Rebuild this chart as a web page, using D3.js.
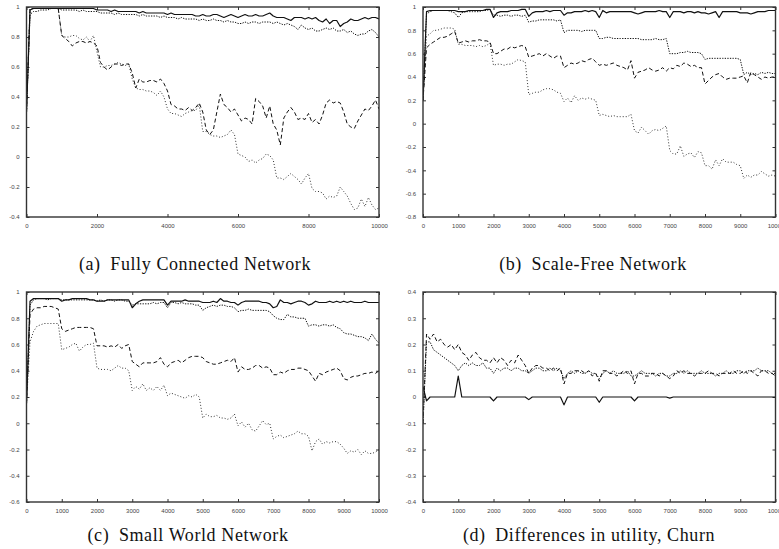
<!DOCTYPE html>
<html>
<head>
<meta charset="utf-8">
<script src="https://cdn.jsdelivr.net/npm/d3@7/dist/d3.min.js"></script>
<style>
body { margin: 0; background: #fff; }
.tick text { font-family: "Liberation Sans", Arial, sans-serif; font-size: 6px; fill: #444; }
.caption { font-family: "Liberation Serif", "Times New Roman", serif; font-size: 18px; letter-spacing: 0.6px; fill: #111; }
</style>
</head>
<body>
<div id="chart"></div>
<script>
// time steps, one sample every 100
const steps = d3.range(0, 10001, 100);

//////// (a) Fully Connected Network ////////
const aSolid = [
  0.30, 0.98, 0.99, 0.99, 0.99, 0.99, 0.99, 0.99, 0.99, 0.99,
  0.99, 0.99, 0.99, 0.99, 0.99, 0.99, 0.99, 0.99, 0.99, 0.99,
  0.98, 0.98, 0.98, 0.98, 0.97, 0.98, 0.97, 0.97, 0.97, 0.97,
  0.97, 0.97, 0.96, 0.97, 0.96, 0.96, 0.96, 0.96, 0.96, 0.96,
  0.95, 0.96, 0.95, 0.95, 0.95, 0.95, 0.95, 0.95, 0.94, 0.94,
  0.95, 0.94, 0.94, 0.95, 0.95, 0.94, 0.93, 0.94, 0.95, 0.94,
  0.93, 0.94, 0.95, 0.94, 0.94, 0.95, 0.94, 0.94, 0.95, 0.96,
  0.94, 0.93, 0.93, 0.93, 0.92, 0.91, 0.93, 0.93, 0.93, 0.92,
  0.93, 0.92, 0.93, 0.91, 0.90, 0.92, 0.89, 0.91, 0.91, 0.87,
  0.89, 0.90, 0.92, 0.91, 0.91, 0.92, 0.93, 0.92, 0.93, 0.93, 0.92
];
const aFine = [
  0.30, 0.95, 0.97, 0.97, 0.98, 0.98, 0.98, 0.99, 0.99, 0.99,
  0.98, 0.98, 0.98, 0.98, 0.98, 0.97, 0.98, 0.97, 0.97, 0.97,
  0.97, 0.96, 0.96, 0.96, 0.96, 0.95, 0.96, 0.95, 0.95, 0.95,
  0.95, 0.95, 0.94, 0.95, 0.94, 0.94, 0.94, 0.94, 0.93, 0.94,
  0.93, 0.93, 0.93, 0.92, 0.93, 0.92, 0.92, 0.92, 0.92, 0.91,
  0.92, 0.91, 0.91, 0.92, 0.91, 0.91, 0.90, 0.91, 0.90, 0.90,
  0.89, 0.89, 0.90, 0.89, 0.90, 0.90, 0.89, 0.90, 0.90, 0.90,
  0.89, 0.90, 0.89, 0.88, 0.89, 0.88, 0.87, 0.85, 0.88, 0.86,
  0.85, 0.86, 0.84, 0.84, 0.85, 0.86, 0.85, 0.86, 0.84, 0.84,
  0.85, 0.83, 0.84, 0.82, 0.81, 0.82, 0.82, 0.84, 0.85, 0.83, 0.80
];
const aDash = [
  0.30, 0.99, 0.99, 0.99, 0.99, 0.99, 0.99, 0.99, 0.99, 0.99,
  0.81, 0.79, 0.77, 0.74, 0.76, 0.77, 0.77, 0.76, 0.77, 0.76,
  0.74, 0.63, 0.60, 0.58, 0.60, 0.62, 0.62, 0.61, 0.62, 0.62,
  0.56, 0.46, 0.52, 0.50, 0.50, 0.51, 0.51, 0.50, 0.52, 0.49,
  0.44, 0.35, 0.34, 0.32, 0.32, 0.31, 0.33, 0.31, 0.33, 0.36,
  0.30, 0.18, 0.15, 0.18, 0.30, 0.42, 0.35, 0.33, 0.30, 0.32,
  0.28, 0.24, 0.26, 0.25, 0.22, 0.39, 0.37, 0.34, 0.26, 0.34,
  0.22, 0.18, 0.08, 0.26, 0.30, 0.33, 0.30, 0.25, 0.26, 0.25,
  0.29, 0.23, 0.25, 0.22, 0.28, 0.36, 0.38, 0.36, 0.37, 0.36,
  0.30, 0.22, 0.20, 0.19, 0.24, 0.28, 0.32, 0.31, 0.34, 0.38, 0.32
];
const aDot = [
  0.30, 0.99, 0.99, 0.99, 0.99, 0.99, 0.99, 0.99, 0.99, 0.99,
  0.81, 0.80, 0.80, 0.81, 0.81, 0.79, 0.78, 0.80, 0.77, 0.81,
  0.70, 0.60, 0.60, 0.61, 0.61, 0.62, 0.63, 0.62, 0.61, 0.62,
  0.52, 0.46, 0.45, 0.45, 0.44, 0.44, 0.43, 0.41, 0.44, 0.40,
  0.32, 0.29, 0.29, 0.28, 0.27, 0.29, 0.30, 0.31, 0.31, 0.35,
  0.17, 0.17, 0.15, 0.14, 0.14, 0.13, 0.14, 0.15, 0.18, 0.15,
  0.02, 0.01, 0.00, -0.03, -0.02, -0.04, -0.02, -0.01, 0.02, 0.01,
  -0.02, -0.14, -0.14, -0.15, -0.13, -0.11, -0.13, -0.15, -0.18, -0.14,
  -0.11, -0.21, -0.23, -0.23, -0.24, -0.28, -0.26, -0.27, -0.26, -0.20,
  -0.23, -0.26, -0.31, -0.35, -0.34, -0.28, -0.33, -0.27, -0.32, -0.35, -0.34
];

//////// (b) Scale-Free Network ////////
const bSolid = [
  0.20, 0.96, 0.97, 0.97, 0.97, 0.97, 0.97, 0.97, 0.97, 0.97,
  0.96, 0.96, 0.96, 0.97, 0.97, 0.97, 0.97, 0.97, 0.98, 0.98,
  0.91, 0.95, 0.96, 0.96, 0.96, 0.97, 0.97, 0.97, 0.98, 0.98,
  0.92, 0.95, 0.96, 0.96, 0.96, 0.97, 0.96, 0.97, 0.97, 0.97,
  0.93, 0.95, 0.95, 0.96, 0.96, 0.96, 0.97, 0.96, 0.97, 0.96,
  0.91, 0.97, 0.95, 0.96, 0.96, 0.96, 0.96, 0.96, 0.96, 0.96,
  0.95, 0.94, 0.95, 0.96, 0.96, 0.96, 0.96, 0.97, 0.96, 0.96,
  0.91, 0.96, 0.96, 0.96, 0.95, 0.96, 0.96, 0.95, 0.96, 0.95,
  0.95, 0.94, 0.95, 0.96, 0.91, 0.96, 0.96, 0.96, 0.96, 0.96,
  0.95, 0.95, 0.95, 0.94, 0.95, 0.96, 0.96, 0.96, 0.97, 0.97, 0.97
];
const bFine = [
  0.20, 0.94, 0.96, 0.97, 0.97, 0.97, 0.97, 0.97, 0.96, 0.95,
  0.91, 0.95, 0.96, 0.96, 0.96, 0.96, 0.96, 0.97, 0.97, 0.98,
  0.93, 0.93, 0.92, 0.93, 0.93, 0.92, 0.93, 0.93, 0.92, 0.93,
  0.87, 0.88, 0.88, 0.89, 0.89, 0.89, 0.89, 0.89, 0.88, 0.89,
  0.78, 0.80, 0.80, 0.80, 0.80, 0.79, 0.80, 0.80, 0.80, 0.80,
  0.73, 0.73, 0.74, 0.74, 0.73, 0.73, 0.73, 0.73, 0.73, 0.73,
  0.73, 0.73, 0.72, 0.72, 0.72, 0.72, 0.73, 0.72, 0.72, 0.73,
  0.60, 0.60, 0.60, 0.61, 0.61, 0.62, 0.61, 0.61, 0.61, 0.60,
  0.55, 0.56, 0.56, 0.56, 0.56, 0.56, 0.56, 0.56, 0.56, 0.56,
  0.55, 0.42, 0.44, 0.42, 0.43, 0.42, 0.44, 0.43, 0.44, 0.43, 0.43
];
const bDash = [
  0.20, 0.65, 0.68, 0.70, 0.72, 0.74, 0.74, 0.75, 0.77, 0.79,
  0.69, 0.70, 0.71, 0.70, 0.71, 0.71, 0.72, 0.71, 0.71, 0.70,
  0.60, 0.60, 0.62, 0.64, 0.64, 0.66, 0.65, 0.66, 0.67, 0.66,
  0.57, 0.58, 0.59, 0.60, 0.58, 0.60, 0.58, 0.56, 0.58, 0.58,
  0.48, 0.50, 0.52, 0.51, 0.52, 0.54, 0.53, 0.55, 0.56, 0.53,
  0.50, 0.51, 0.50, 0.51, 0.52, 0.50, 0.49, 0.48, 0.46, 0.54,
  0.39, 0.44, 0.45, 0.46, 0.48, 0.46, 0.45, 0.46, 0.48, 0.45,
  0.48, 0.47, 0.50, 0.49, 0.52, 0.51, 0.49, 0.50, 0.48, 0.48,
  0.34, 0.37, 0.40, 0.42, 0.43, 0.40, 0.38, 0.39, 0.39, 0.39,
  0.40, 0.41, 0.35, 0.44, 0.42, 0.40, 0.38, 0.40, 0.39, 0.40, 0.40
];
const bDot = [
  0.20, 0.75, 0.77, 0.80, 0.80, 0.81, 0.82, 0.82, 0.82, 0.81,
  0.68, 0.68, 0.67, 0.67, 0.67, 0.66, 0.67, 0.66, 0.67, 0.69,
  0.50, 0.51, 0.51, 0.50, 0.51, 0.51, 0.53, 0.55, 0.54, 0.53,
  0.25, 0.26, 0.27, 0.27, 0.29, 0.30, 0.30, 0.29, 0.27, 0.26,
  0.19, 0.22, 0.18, 0.24, 0.20, 0.22, 0.21, 0.22, 0.21, 0.20,
  0.07, 0.08, 0.07, 0.06, 0.07, 0.06, 0.06, 0.06, 0.06, 0.08,
  -0.06, -0.08, -0.03, -0.06, -0.09, -0.06, -0.05, -0.06, -0.04, -0.02,
  -0.23, -0.26, -0.26, -0.19, -0.28, -0.26, -0.25, -0.29, -0.24, -0.25,
  -0.36, -0.36, -0.39, -0.31, -0.36, -0.30, -0.33, -0.33, -0.33, -0.35,
  -0.36, -0.47, -0.44, -0.46, -0.44, -0.44, -0.41, -0.43, -0.45, -0.44, -0.45
];

//////// (c) Small World Network ////////
const cSolid = [
  0.15, 0.93, 0.95, 0.95, 0.95, 0.95, 0.95, 0.95, 0.95, 0.95,
  0.93, 0.94, 0.94, 0.95, 0.95, 0.95, 0.95, 0.95, 0.94, 0.94,
  0.93, 0.93, 0.93, 0.94, 0.94, 0.94, 0.94, 0.94, 0.94, 0.94,
  0.88, 0.91, 0.93, 0.94, 0.94, 0.94, 0.94, 0.94, 0.94, 0.94,
  0.90, 0.93, 0.93, 0.93, 0.93, 0.94, 0.93, 0.93, 0.93, 0.93,
  0.92, 0.92, 0.92, 0.93, 0.92, 0.95, 0.93, 0.93, 0.92, 0.92,
  0.90, 0.92, 0.93, 0.93, 0.93, 0.93, 0.93, 0.92, 0.92, 0.91,
  0.88, 0.89, 0.94, 0.92, 0.92, 0.91, 0.92, 0.93, 0.93, 0.92,
  0.90, 0.91, 0.93, 0.92, 0.92, 0.92, 0.93, 0.92, 0.93, 0.92,
  0.93, 0.92, 0.93, 0.92, 0.92, 0.92, 0.93, 0.92, 0.92, 0.92, 0.92
];
const cFine = [
  0.15, 0.90, 0.94, 0.95, 0.95, 0.95, 0.94, 0.95, 0.95, 0.95,
  0.94, 0.94, 0.94, 0.94, 0.94, 0.94, 0.94, 0.94, 0.94, 0.94,
  0.93, 0.94, 0.93, 0.94, 0.94, 0.93, 0.94, 0.94, 0.93, 0.93,
  0.90, 0.91, 0.91, 0.91, 0.91, 0.91, 0.92, 0.91, 0.92, 0.92,
  0.88, 0.92, 0.92, 0.91, 0.92, 0.91, 0.91, 0.91, 0.90, 0.90,
  0.86, 0.88, 0.89, 0.90, 0.89, 0.90, 0.90, 0.89, 0.89, 0.88,
  0.85, 0.86, 0.86, 0.87, 0.86, 0.86, 0.86, 0.86, 0.86, 0.85,
  0.82, 0.80, 0.79, 0.79, 0.83, 0.81, 0.81, 0.80, 0.80, 0.80,
  0.74, 0.75, 0.75, 0.74, 0.75, 0.75, 0.74, 0.75, 0.73, 0.72,
  0.69, 0.68, 0.68, 0.67, 0.66, 0.66, 0.65, 0.63, 0.68, 0.64, 0.61
];
const cDash = [
  0.15, 0.83, 0.87, 0.88, 0.88, 0.89, 0.89, 0.89, 0.88, 0.87,
  0.72, 0.70, 0.71, 0.72, 0.73, 0.73, 0.73, 0.73, 0.73, 0.72,
  0.59, 0.59, 0.59, 0.58, 0.59, 0.58, 0.60, 0.57, 0.59, 0.60,
  0.47, 0.45, 0.43, 0.46, 0.46, 0.46, 0.46, 0.47, 0.50, 0.45,
  0.43, 0.46, 0.47, 0.48, 0.46, 0.48, 0.50, 0.51, 0.51, 0.51,
  0.50, 0.47, 0.46, 0.45, 0.45, 0.46, 0.47, 0.48, 0.47, 0.50,
  0.39, 0.43, 0.41, 0.41, 0.42, 0.44, 0.44, 0.42, 0.43, 0.42,
  0.37, 0.37, 0.39, 0.38, 0.40, 0.41, 0.41, 0.42, 0.42, 0.41,
  0.40, 0.36, 0.32, 0.38, 0.37, 0.39, 0.40, 0.41, 0.42, 0.40,
  0.34, 0.33, 0.35, 0.36, 0.36, 0.37, 0.38, 0.38, 0.39, 0.38, 0.40
];
const cDot = [
  0.15, 0.62, 0.70, 0.74, 0.75, 0.76, 0.76, 0.76, 0.76, 0.76,
  0.56, 0.57, 0.58, 0.60, 0.61, 0.55, 0.58, 0.60, 0.60, 0.61,
  0.42, 0.41, 0.41, 0.41, 0.40, 0.42, 0.44, 0.42, 0.42, 0.40,
  0.25, 0.28, 0.26, 0.30, 0.25, 0.27, 0.25, 0.28, 0.25, 0.29,
  0.21, 0.23, 0.22, 0.21, 0.20, 0.19, 0.21, 0.20, 0.22, 0.20,
  0.04, 0.07, 0.05, 0.05, 0.06, 0.04, 0.04, 0.03, 0.04, 0.07,
  -0.02, 0.01, -0.03, 0.00, -0.05, -0.06, -0.02, 0.02, -0.01, 0.00,
  -0.12, -0.10, -0.09, -0.11, -0.10, -0.09, -0.08, -0.06, -0.08, -0.08,
  -0.10, -0.21, -0.14, -0.12, -0.16, -0.14, -0.15, -0.14, -0.14, -0.16,
  -0.19, -0.23, -0.21, -0.22, -0.20, -0.24, -0.21, -0.23, -0.23, -0.22, -0.20
];

//////// (d) Differences in utility, Churn ////////
const dSolid = [
  0.04, -0.015, 0, 0, 0, 0, 0, 0, 0, 0,
  0.08, 0, 0, 0, 0, 0, 0, 0, 0, 0,
  -0.015, 0, 0, 0, 0, 0, 0, 0, 0, 0,
  -0.01, 0, 0, 0, 0, 0, 0, 0, 0, 0,
  -0.03, 0, 0, 0, 0, 0, 0, 0, 0, 0,
  -0.02, 0, 0, 0, 0, 0, 0, 0, 0, 0,
  -0.015, 0, 0, 0, 0, 0, 0, 0, 0, 0,
  -0.004, 0, 0, 0, 0, 0, 0, 0, 0, 0,
  0, 0, 0, 0, 0, 0, 0, 0, 0, 0,
  0, 0, 0, 0, 0, 0, 0, 0, 0, 0, 0
];
const dDash = [
  -0.10, 0.24, 0.22, 0.24, 0.21, 0.22, 0.20, 0.19, 0.20, 0.18,
  0.20, 0.17, 0.16, 0.14, 0.16, 0.17, 0.15, 0.14, 0.14, 0.13,
  0.15, 0.13, 0.15, 0.14, 0.12, 0.14, 0.13, 0.16, 0.14, 0.12,
  0.09, 0.11, 0.12, 0.12, 0.11, 0.11, 0.10, 0.11, 0.10, 0.11,
  0.05, 0.09, 0.09, 0.10, 0.10, 0.10, 0.09, 0.10, 0.08, 0.09,
  0.06, 0.10, 0.10, 0.09, 0.09, 0.08, 0.09, 0.10, 0.09, 0.10,
  0.05, 0.09, 0.09, 0.08, 0.08, 0.09, 0.09, 0.08, 0.09, 0.08,
  0.07, 0.08, 0.10, 0.09, 0.10, 0.09, 0.09, 0.08, 0.09, 0.09,
  0.09, 0.10, 0.09, 0.09, 0.08, 0.09, 0.09, 0.09, 0.10, 0.09,
  0.09, 0.10, 0.09, 0.10, 0.09, 0.08, 0.10, 0.10, 0.09, 0.09, 0.08
];
const dFine = [
  -0.10, 0.21, 0.21, 0.18, 0.17, 0.16, 0.15, 0.14, 0.13, 0.12,
  0.10, 0.12, 0.13, 0.12, 0.13, 0.12, 0.12, 0.13, 0.11, 0.11,
  0.09, 0.11, 0.10, 0.11, 0.11, 0.10, 0.11, 0.11, 0.10, 0.10,
  0.09, 0.10, 0.11, 0.11, 0.10, 0.10, 0.11, 0.10, 0.11, 0.10,
  0.07, 0.09, 0.10, 0.09, 0.10, 0.09, 0.09, 0.10, 0.09, 0.09,
  0.07, 0.09, 0.10, 0.09, 0.10, 0.09, 0.09, 0.09, 0.10, 0.08,
  0.08, 0.09, 0.10, 0.09, 0.09, 0.09, 0.08, 0.09, 0.09, 0.08,
  0.08, 0.09, 0.09, 0.10, 0.09, 0.10, 0.09, 0.09, 0.09, 0.10,
  0.09, 0.09, 0.09, 0.08, 0.09, 0.09, 0.10, 0.09, 0.09, 0.10,
  0.10, 0.09, 0.10, 0.10, 0.10, 0.11, 0.10, 0.10, 0.10, 0.09, 0.09
];

// tick values
const aYTicks = [-0.4, -0.2, 0, 0.2, 0.4, 0.6, 0.8, 1];
const bYTicks = [-0.8, -0.6, -0.4, -0.2, 0, 0.2, 0.4, 0.6, 0.8, 1];
const cYTicks = [-0.6, -0.4, -0.2, 0, 0.2, 0.4, 0.6, 0.8, 1];
const dYTicks = [-0.4, -0.3, -0.2, -0.1, 0, 0.1, 0.2, 0.3, 0.4];
const xTicks2k = [0, 2000, 4000, 6000, 8000, 10000];
const xTicks1k = [0, 1000, 2000, 3000, 4000, 5000, 6000, 7000, 8000, 9000, 10000];

// line styles
const styles = {
  solid: {dash: null, color: "#111", width: 1.2},
  fine:  {dash: "1.3,1.3", color: "#111", width: 1},
  dash:  {dash: "4,2.6", color: "#111", width: 1},
  dot:   {dash: "1,2", color: "#333", width: 1}
};

const panels = [
  {caption: "(a)\u2002Fully Connected Network", left: 26.5, top: 7, yDomain: [-0.4, 1], yTicks: aYTicks, xTicks: xTicks2k,
   capX: 195, capY: 270, series: [[aDot, "dot"], [aDash, "dash"], [aFine, "fine"], [aSolid, "solid"]]},
  {caption: "(b)\u2002Scale-Free Network", left: 423, top: 7, yDomain: [-0.8, 1], yTicks: bYTicks, xTicks: xTicks1k,
   capX: 593, capY: 270, series: [[bDot, "dot"], [bDash, "dash"], [bFine, "fine"], [bSolid, "solid"]]},
  {caption: "(c)\u2002Small World Network", left: 26.5, top: 292, yDomain: [-0.6, 1], yTicks: cYTicks, xTicks: xTicks1k,
   capX: 188, capY: 541, series: [[cDot, "dot"], [cDash, "dash"], [cFine, "fine"], [cSolid, "solid"]]},
  {caption: "(d)\u2002Differences in utility, Churn", left: 423, top: 292, yDomain: [-0.4, 0.4], yTicks: dYTicks, xTicks: xTicks1k,
   capX: 589, capY: 541, series: [[dFine, "fine"], [dDash, "dash"], [dSolid, "solid"]]}
];

const W = 779, H = 549, pw = 352.5, ph = 210;

const svg = d3.select("#chart").append("svg")
  .attr("width", W).attr("height", H);

const fmt = d => String(+d.toFixed(2));

panels.forEach(p => {
  const g = svg.append("g").attr("transform", `translate(${p.left},${p.top})`);
  const x = d3.scaleLinear().domain([0, 10000]).range([0, pw]);
  const y = d3.scaleLinear().domain(p.yDomain).range([ph, 0]);

  // clip so the start of the curves stays inside the frame
  const clipId = "clip" + p.left + "_" + p.top;
  g.append("clipPath").attr("id", clipId)
    .append("rect").attr("width", pw).attr("height", ph);

  // axes with inward ticks, mirrored on top and right
  const axes = [
    [d3.axisLeft(y).tickValues(p.yTicks).tickFormat(fmt), 0, 0],
    [d3.axisRight(y).tickValues(p.yTicks).tickFormat(""), pw, 0],
    [d3.axisBottom(x).tickValues(p.xTicks).tickFormat(fmt), 0, ph],
    [d3.axisTop(x).tickValues(p.xTicks).tickFormat(""), 0, 0]
  ];
  axes.forEach(([ax, tx, ty]) => {
    const a = g.append("g").attr("transform", `translate(${tx},${ty})`)
      .call(ax.tickSizeInner(-3).tickSizeOuter(0).tickPadding(7));
    a.select(".domain").remove();
    a.selectAll(".tick line").attr("stroke", "#333").attr("stroke-width", 1);
  });
  g.selectAll(".tick text").attr("font-family", null).attr("font-size", null);

  const line = d3.line()
    .x((d, i) => x(steps[i]))
    .y(d => y(d));

  const lines = g.append("g").attr("clip-path", `url(#${clipId})`);
  p.series.forEach(([vals, st]) => {
    const s = styles[st];
    lines.append("path")
      .attr("d", line(vals))
      .attr("fill", "none")
      .attr("stroke", s.color)
      .attr("stroke-width", s.width)
      .attr("stroke-dasharray", s.dash)
      .attr("stroke-linejoin", "round");
  });

  // frame
  g.append("rect")
    .attr("width", pw).attr("height", ph)
    .attr("fill", "none").attr("stroke", "#333").attr("stroke-width", 1.4);

  svg.append("text").attr("class", "caption")
    .attr("x", p.capX).attr("y", p.capY)
    .attr("text-anchor", "middle")
    .text(p.caption);
});
</script>
</body>
</html>
